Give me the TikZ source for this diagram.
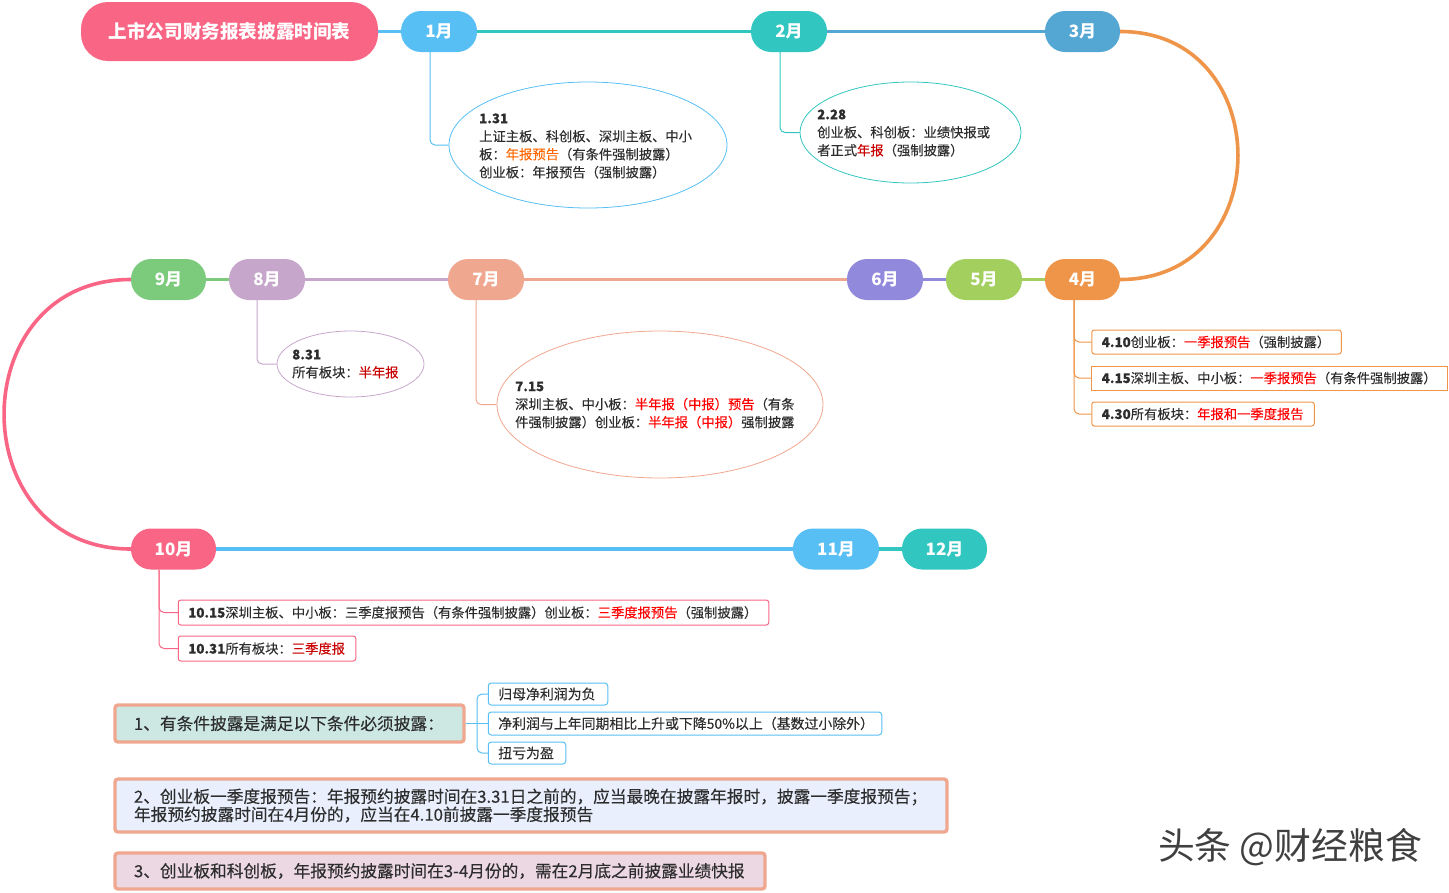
\documentclass[tikz,border=0pt]{standalone}
\usepackage{fontspec}
\setmainfont{Noto Sans CJK SC}
\newfontfamily\bodyfont[FakeBold=0.2]{Noto Sans CJK SC}
\usetikzlibrary{positioning,shapes.geometric}
\definecolor{mblue}{RGB}{88,191,245}
\definecolor{mteal}{RGB}{49,198,192}
\definecolor{msteel}{RGB}{85,167,211}
\definecolor{morange}{RGB}{239,149,73}
\definecolor{mlime}{RGB}{163,207,95}
\definecolor{mviolet}{RGB}{145,137,220}
\definecolor{msalmon}{RGB}{240,167,143}
\definecolor{mlilac}{RGB}{198,166,203}
\definecolor{mgreen}{RGB}{124,203,125}
\definecolor{mpink}{RGB}{249,102,133}
\definecolor{txtdark}{RGB}{45,45,45}
\definecolor{hlred}{RGB}{255,0,0}
\definecolor{hldark}{RGB}{200,0,0}
\definecolor{hlorange}{RGB}{255,102,0}
\definecolor{fillmint}{RGB}{205,232,226}
\definecolor{fillice}{RGB}{233,239,253}
\definecolor{fillrose}{RGB}{236,216,227}
\newcommand{\hl}[1]{\textcolor{hlred}{#1}}
\newcommand{\hd}[1]{\textcolor{hldark}{#1}}
\tikzset{
  monthbox/.style={minimum width=76, minimum height=41, rounded corners=20, inner sep=0,
    text=white, font=\fontsize{17}{20}\selectfont\bfseries},
  mainline/.style={line width=3.6},
  branch/.style={line width=1, rounded corners=5},
  noteell/.style={ellipse, draw, line width=0.8, inner sep=0},
  notetxt/.style={anchor=west, align=left, inner sep=0, text=txtdark,
    font=\fontsize{13.3}{18}\selectfont\bodyfont},
  tipbox/.style={draw, line width=1, rounded corners=2.5, inner xsep=10, inner ysep=0,
    align=left, text=txtdark, font=\fontsize{13.3}{18}\selectfont\bodyfont},
  bigbox/.style={draw=msalmon, line width=3.4, rounded corners=3, inner xsep=19, inner ysep=0,
    align=left, text=txtdark, font=\fontsize{16.7}{18}\selectfont\bodyfont},
  subbox/.style={draw=mblue, line width=1, rounded corners=3, inner xsep=10, inner ysep=0,
    align=left, text=txtdark, font=\fontsize{13.9}{16}\selectfont\bodyfont},
}
\begin{document}
\begin{tikzpicture}[x=1pt,y=-1pt]
\useasboundingbox (0,0) rectangle (1449,892);
% Title and months
\node[minimum width=297, minimum height=59, rounded corners=27, fill=mpink, inner sep=0,
      text=white, font=\fontsize{18.6}{22}\selectfont\bfseries] (title) at (229.5,31.5) {上市公司财务报表披露时间表};
\foreach \name/\x/\y/\pillw/\col/\txt in {m1/439/31.5/76/mblue/1月, m2/789/31.5/76/mteal/2月, m3/1082.5/31.5/75/msteel/3月,
    m4/1082.5/279.5/75/morange/4月, m5/984/279.5/76/mlime/5月, m6/885/279.5/76/mviolet/6月,
    m7/486/279.5/76/msalmon/7月, m8/267/279.5/76/mlilac/8月, m9/168.5/279.5/75/mgreen/9月,
    m10/173.5/549/85/mpink/10月, m11/836/549/86/mblue/11月, m12/944.5/549/85/mteal/12月} {
  \node[monthbox, fill=\col, minimum width=\pillw] (\name) at (\x,\y) {\txt};
}
% Main line
\draw[mainline, mblue] (title.east) -- (m1.west);
\draw[mainline, mteal] (m1.east) -- (m2.west);
\draw[mainline, msteel] (m2.east) -- (m3.west);
\draw[mainline, morange] (m3.east) .. controls +(157,0) and +(157,0) .. (m4.east);
\draw[mainline, mlime] (m4.west) -- (m5.east);
\draw[mainline, mviolet] (m5.west) -- (m6.east);
\draw[mainline, msalmon] (m6.west) -- (m7.east);
\draw[mainline, mlilac] (m7.west) -- (m8.east);
\draw[mainline, mgreen] (m8.west) -- (m9.east);
\draw[mainline, mpink] (m9.west) .. controls +(-169,0) and +(-169,0) .. (m10.west);
\draw[mainline, mblue] (m10.east) -- (m11.west);
\draw[mainline, mteal] (m11.east) -- (m12.west);
% Ellipse notes
\node[noteell, draw=mblue, minimum width=278, minimum height=126] (note1) at (588,145) {};
\node[notetxt] (text1) at (479,146) {\textbf{1.31}\\上证主板、科创板、深圳主板、中小\\板：\textcolor{hlorange}{年报预告}（有条件强制披露）\\创业板：年报预告（强制披露）};
\node[noteell, draw=mteal, minimum width=221, minimum height=101] (note2) at (910.5,132.5) {};
\node[notetxt] (text2) at (817,133) {\textbf{2.28}\\创业板、科创板：业绩快报或\\者正式\hd{年报}（强制披露）};
\node[noteell, draw=mlilac, minimum width=147, minimum height=66] (note8) at (350.5,364) {};
\node[notetxt] (text8) at (292,364) {\textbf{8.31}\\所有板块：\hd{半年报}};
\node[noteell, draw=msalmon, minimum width=326, minimum height=147] (note7) at (660,404.5) {};
\node[notetxt] (text7) at (515,405) {\textbf{7.15}\\深圳主板、中小板：\hl{半年报（中报）预告}（有条\\件强制披露）创业板：\hl{半年报（中报）}强制披露};
\draw[branch, mblue] ([xshift=-9]m1.south) |- (note1.west);
\draw[branch, mteal] ([xshift=-9]m2.south) |- (note2.west);
\draw[branch, mlilac] ([xshift=-10]m8.south) |- (note8.west);
\draw[branch, msalmon] ([xshift=-10]m7.south) |- (note7.west);
% April and October boxes
\node[tipbox, draw=morange, minimum height=24, text width=229.5] (apr1) at (1216.5,342) {\textbf{4.10}创业板：\hl{一季报预告}（强制披露）};
\node[tipbox, draw=morange, minimum height=24, sharp corners, text width=335.5] (apr2) at (1269.5,378) {\textbf{4.15}深圳主板、中小板：\hl{一季报预告}（有条件强制披露）};
\node[tipbox, draw=morange, minimum height=24, text width=202.5] (apr3) at (1203,414) {\textbf{4.30}所有板块：\hl{年报和一季度报告}};
\foreach \target in {apr1,apr2,apr3} {
  \draw[branch, morange] ([xshift=-8.5]m4.south) |- (\target.west);
}
\node[tipbox, draw=mpink, minimum height=25, text width=570.5] (oct1) at (473.5,612.5) {\textbf{10.15}深圳主板、中小板：三季度报预告（有条件强制披露）创业板：\hl{三季度报预告}（强制披露）};
\node[tipbox, draw=mpink, minimum height=25, text width=157.5] (oct2) at (267,648.5) {\textbf{10.31}所有板块：\hd{三季度报}};
\foreach \target in {oct1,oct2} {
  \draw[branch, mpink] ([xshift=-14.5]m10.south) |- (\target.west);
}
% Remarks
\node[bigbox, fill=fillmint, minimum height=37, text width=311] (rem1) at (289.5,723.5) {1、有条件披露是满足以下条件必须披露：};
\node[bigbox, fill=fillice, minimum height=53, text width=794] (rem2) at (531,805.5) {2、创业板一季度报预告：年报预约披露时间在3.31日之前的，应当最晚在披露年报时，披露一季度报预告；\\年报预约披露时间在4月份的，应当在4.10前披露一季度报预告};
\node[bigbox, fill=fillrose, minimum height=36, text width=612] (rem3) at (440,871) {3、创业板和科创板，年报预约披露时间在3-4月份的，需在2月底之前披露业绩快报};
\node[subbox, minimum height=22, text width=99.5] (cond1) at (548,694) {归母净利润为负};
\node[subbox, minimum height=23, text width=373.5] (cond2) at (685,723.5) {净利润与上年同期相比上升或下降50\%以上（基数过小除外）};
\node[subbox, minimum height=22, text width=57.5] (cond3) at (527,753) {扭亏为盈};
\coordinate (fork) at (477,723.5);
\draw[branch, mblue] (rem1.east) -- (cond2.west);
\foreach \target in {cond1,cond3} {
  \draw[branch, mblue] (fork) |- (\target.west);
}
% Watermark
\node[inner sep=0, text=black!75, font=\fontsize{36.8}{40}\selectfont] (mark) at (1290,847) {头条 @财经粮食};
\end{tikzpicture}
\end{document}
